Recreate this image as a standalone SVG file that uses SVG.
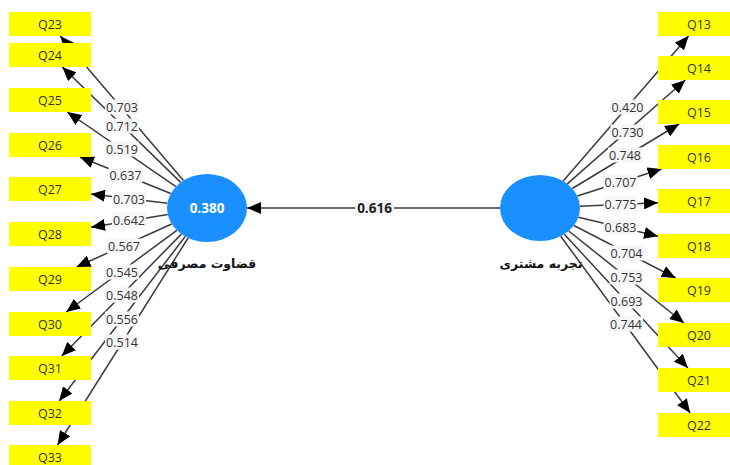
<svg xmlns="http://www.w3.org/2000/svg" width="730" height="465" viewBox="0 0 730 465">
<style>
.ln{stroke:#3a3a3a;stroke-width:1.5;fill:none;marker-end:url(#ah)}
.box{fill:#ffff00}
.bt{font-family:"Open Sans","Liberation Sans",sans-serif;font-size:12.5px;fill:#333;text-anchor:middle}
.lb{fill:#f6f6f6}
.lt{font-family:"Open Sans","Liberation Sans",sans-serif;font-size:12.5px;fill:#333;text-anchor:middle}
.lv{fill:#1a8fff}
.nm{font-family:"DejaVu Sans","Noto Sans",sans-serif;font-size:12.5px;font-weight:bold;fill:#111;text-anchor:middle}
</style>
<defs>
<marker id="ah" markerUnits="userSpaceOnUse" markerWidth="14" markerHeight="12" viewBox="0 0 14 12" refX="14" refY="6" orient="auto">
<path d="M0,0 L14,6 L0,12 Z" fill="#000"/>
</marker>
</defs>
<rect width="730" height="465" fill="#fff"/>
<g id="connectors">
<line class="ln" x1="500" y1="208" x2="247" y2="208"/>
<line class="ln" x1="183.5" y1="180.5" x2="60.2" y2="36"/>
<line class="ln" x1="180.7" y1="182.4" x2="62.3" y2="67"/>
<line class="ln" x1="175.9" y1="186.6" x2="67.4" y2="112"/>
<line class="ln" x1="170.8" y1="193.5" x2="79.9" y2="157"/>
<line class="ln" x1="167.4" y1="203.2" x2="91" y2="194"/>
<line class="ln" x1="167.75" y1="214.5" x2="91" y2="227.2"/>
<line class="ln" x1="171.7" y1="224" x2="76.5" y2="267"/>
<line class="ln" x1="176.8" y1="230.3" x2="66.2" y2="312"/>
<line class="ln" x1="181.4" y1="234.1" x2="61.8" y2="356"/>
<line class="ln" x1="185.2" y1="236.5" x2="59.2" y2="401"/>
<line class="ln" x1="188.1" y1="238" x2="57.6" y2="445"/>
<line class="ln" x1="563.2" y1="181.1" x2="688.6" y2="36"/>
<line class="ln" x1="567.3" y1="183.9" x2="685.4" y2="80"/>
<line class="ln" x1="572.3" y1="188.5" x2="679.1" y2="124"/>
<line class="ln" x1="577.3" y1="196" x2="661.6" y2="169"/>
<line class="ln" x1="579.9" y1="206.2" x2="658" y2="202.8"/>
<line class="ln" x1="578.4" y1="217.2" x2="658" y2="236.2"/>
<line class="ln" x1="573.9" y1="225.5" x2="675.7" y2="278"/>
<line class="ln" x1="568.7" y1="231" x2="684" y2="323"/>
<line class="ln" x1="564.3" y1="234.2" x2="687.9" y2="368"/>
<line class="ln" x1="560.7" y1="236.2" x2="690.2" y2="413"/>
</g>
<g id="edge-labels">
<rect class="lb" x="355" y="200" width="39" height="16" fill="#fafafa"/>
<text x="374.5" y="212.5" font-family="'Open Sans','Liberation Sans',sans-serif" font-size="13.5" font-weight="bold" fill="#222" text-anchor="middle">0.616</text>
<rect class="lb" x="105" y="99.5" width="34" height="15"/><text class="lt" x="122" y="111.5">0.703</text>
<rect class="lb" x="105" y="118.5" width="34" height="15"/><text class="lt" x="122" y="130.5">0.712</text>
<rect class="lb" x="105" y="141.5" width="34" height="15"/><text class="lt" x="122" y="153.5">0.519</text>
<rect class="lb" x="108.5" y="167.5" width="34" height="15"/><text class="lt" x="125.5" y="179.5">0.637</text>
<rect class="lb" x="112" y="191.5" width="34" height="15"/><text class="lt" x="129" y="203.5">0.703</text>
<rect class="lb" x="112" y="212.5" width="34" height="15"/><text class="lt" x="129" y="224.5">0.642</text>
<rect class="lb" x="107" y="238.5" width="34" height="15"/><text class="lt" x="124" y="250.5">0.567</text>
<rect class="lb" x="105" y="264.5" width="34" height="15"/><text class="lt" x="122" y="276.5">0.545</text>
<rect class="lb" x="105" y="287.5" width="34" height="15"/><text class="lt" x="122" y="299.5">0.548</text>
<rect class="lb" x="105" y="311.5" width="34" height="15"/><text class="lt" x="122" y="323.5">0.556</text>
<rect class="lb" x="105" y="334.5" width="34" height="15"/><text class="lt" x="122" y="346.5">0.514</text>
<rect class="lb" x="610.5" y="99.5" width="34" height="15"/><text class="lt" x="627.5" y="111.5">0.420</text>
<rect class="lb" x="610.5" y="124.5" width="34" height="15"/><text class="lt" x="627.5" y="136.5">0.730</text>
<rect class="lb" x="608" y="147.5" width="34" height="15"/><text class="lt" x="625" y="159.5">0.748</text>
<rect class="lb" x="603.5" y="174.5" width="34" height="15"/><text class="lt" x="620.5" y="186.5">0.707</text>
<rect class="lb" x="603.5" y="196.5" width="34" height="15"/><text class="lt" x="620.5" y="208.5">0.775</text>
<rect class="lb" x="603.5" y="219.5" width="34" height="15"/><text class="lt" x="620.5" y="231.5">0.683</text>
<rect class="lb" x="609.5" y="245.5" width="34" height="15"/><text class="lt" x="626.5" y="257.5">0.704</text>
<rect class="lb" x="609.5" y="269.5" width="34" height="15"/><text class="lt" x="626.5" y="281.5">0.753</text>
<rect class="lb" x="609.5" y="293.5" width="34" height="15"/><text class="lt" x="626.5" y="305.5">0.693</text>
<rect class="lb" x="609" y="316.5" width="34" height="15"/><text class="lt" x="626" y="328.5">0.744</text>
</g>
<g id="consumer-judgment">
<ellipse class="lv" cx="207" cy="208" rx="40" ry="34"/>
<text x="207" y="213" font-family="'Open Sans','Liberation Sans',sans-serif" font-size="13.5" font-weight="bold" fill="#fff" text-anchor="middle">0.380</text>
<text class="nm" x="207" y="268" direction="rtl">قضاوت مصرفی</text>
</g>
<g id="customer-experience">
<ellipse class="lv" cx="540" cy="208" rx="40" ry="33"/>
<text class="nm" x="541" y="268" direction="rtl">تجربه مشتری</text>
</g>
<g id="Q23"><rect class="box" x="9" y="12" width="82" height="24"/><text class="bt" x="50" y="28.5">Q23</text></g>
<g id="Q24"><rect class="box" x="9" y="43" width="82" height="24"/><text class="bt" x="50" y="59.5">Q24</text></g>
<g id="Q25"><rect class="box" x="9" y="88" width="82" height="24"/><text class="bt" x="50" y="104.5">Q25</text></g>
<g id="Q26"><rect class="box" x="9" y="133" width="82" height="24"/><text class="bt" x="50" y="149.5">Q26</text></g>
<g id="Q27"><rect class="box" x="9" y="177" width="82" height="24"/><text class="bt" x="50" y="193.5">Q27</text></g>
<g id="Q28"><rect class="box" x="9" y="222" width="82" height="24"/><text class="bt" x="50" y="238.5">Q28</text></g>
<g id="Q29"><rect class="box" x="9" y="267" width="82" height="24"/><text class="bt" x="50" y="283.5">Q29</text></g>
<g id="Q30"><rect class="box" x="9" y="312" width="82" height="24"/><text class="bt" x="50" y="328.5">Q30</text></g>
<g id="Q31"><rect class="box" x="9" y="356" width="82" height="24"/><text class="bt" x="50" y="372.5">Q31</text></g>
<g id="Q32"><rect class="box" x="9" y="401" width="82" height="24"/><text class="bt" x="50" y="417.5">Q32</text></g>
<g id="Q33"><rect class="box" x="9" y="445" width="82" height="24"/><text class="bt" x="50" y="461.5">Q33</text></g>
<g id="Q13"><rect class="box" x="658" y="12" width="82" height="24"/><text class="bt" x="699" y="28.5">Q13</text></g>
<g id="Q14"><rect class="box" x="658" y="56" width="82" height="24"/><text class="bt" x="699" y="72.5">Q14</text></g>
<g id="Q15"><rect class="box" x="658" y="100" width="82" height="24"/><text class="bt" x="699" y="116.5">Q15</text></g>
<g id="Q16"><rect class="box" x="658" y="145" width="82" height="24"/><text class="bt" x="699" y="161.5">Q16</text></g>
<g id="Q17"><rect class="box" x="658" y="189" width="82" height="24"/><text class="bt" x="699" y="205.5">Q17</text></g>
<g id="Q18"><rect class="box" x="658" y="234" width="82" height="24"/><text class="bt" x="699" y="250.5">Q18</text></g>
<g id="Q19"><rect class="box" x="658" y="278" width="82" height="24"/><text class="bt" x="699" y="294.5">Q19</text></g>
<g id="Q20"><rect class="box" x="658" y="323" width="82" height="24"/><text class="bt" x="699" y="339.5">Q20</text></g>
<g id="Q21"><rect class="box" x="658" y="368" width="82" height="24"/><text class="bt" x="699" y="384.5">Q21</text></g>
<g id="Q22"><rect class="box" x="658" y="413" width="82" height="24"/><text class="bt" x="699" y="429.5">Q22</text></g>
</svg>
